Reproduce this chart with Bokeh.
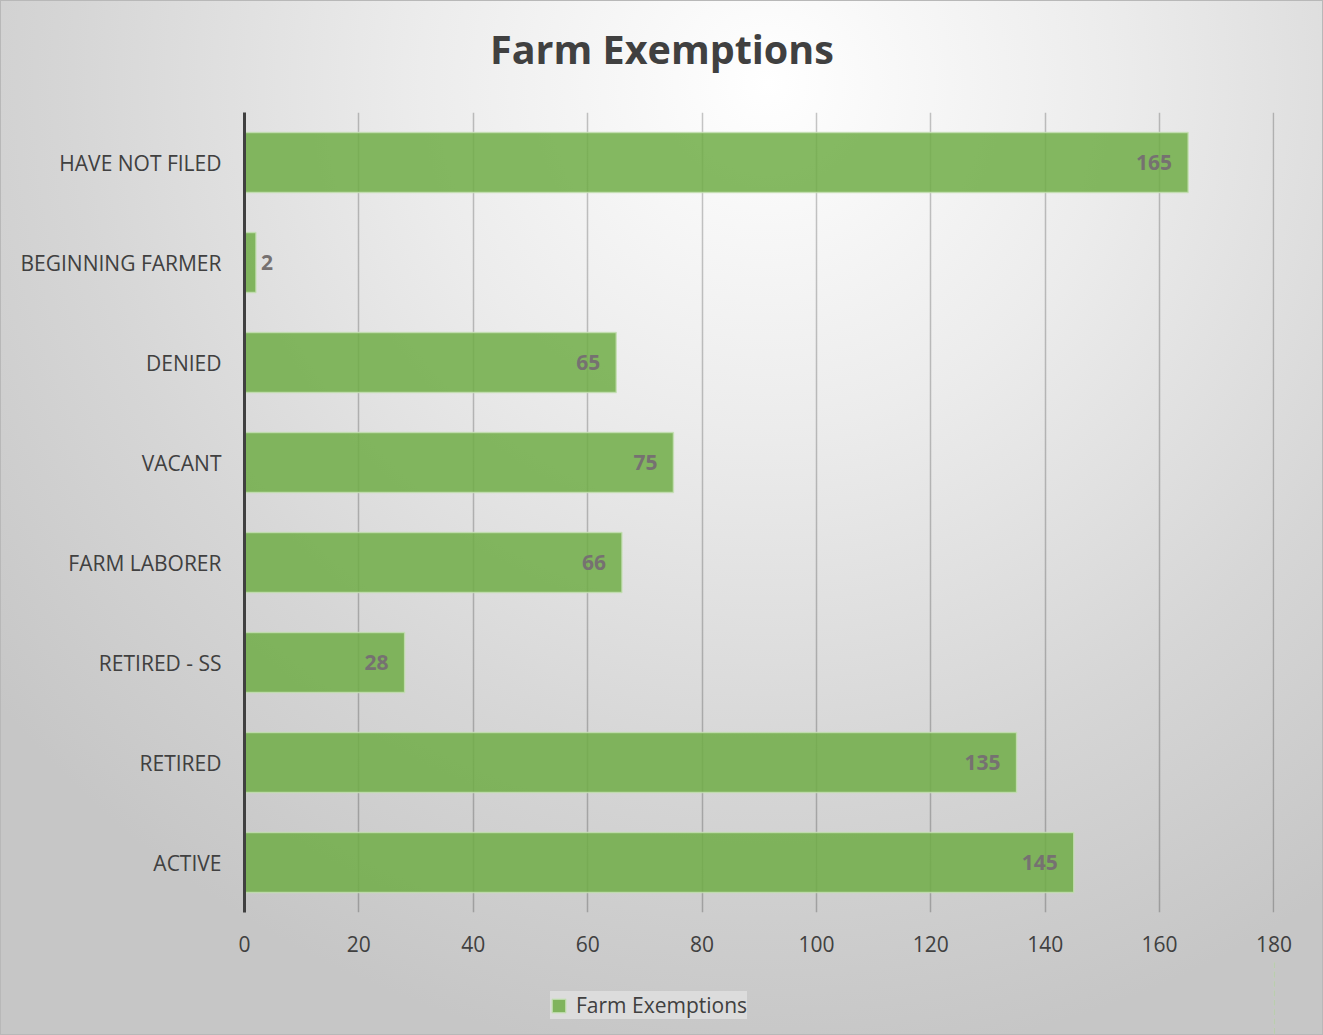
from bokeh.plotting import figure
from bokeh.layouts import column
from bokeh.models import (ColumnDataSource, FactorRange, Range1d, SingleIntervalTicker,
                          Legend, LegendItem, Label, LabelSet)
from bokeh.core.properties import value
from bokeh.embed import file_html
from bokeh.resources import INLINE

# ---- data ----
categories = ["HAVE NOT FILED", "BEGINNING FARMER", "DENIED", "VACANT",
              "FARM LABORER", "RETIRED - SS", "RETIRED", "ACTIVE"]
values = [165, 2, 65, 75, 66, 28, 135, 145]
series_name = "Farm Exemptions"
title_text = "Farm Exemptions"
x_max = 180
x_step = 20

TEXT = "#404040"
FONT = "Open Sans"
BAR = "#70ad47"
BAR_LINE = "#c5e0b4"
W = 1323
LEFT, RIGHT = 244, 49


def strip(height, **kw):
    f = figure(width=W, height=height, output_backend="svg", toolbar_location=None,
               x_axis_type=None, y_axis_type=None, min_border_left=LEFT,
               min_border_right=RIGHT, min_border_top=0, min_border_bottom=0, **kw)
    f.title = None
    f.background_fill_color = None
    f.border_fill_color = None
    f.outline_line_color = None
    f.grid.grid_line_color = None
    return f


# labels inside end unless the bar is too short
inside = [v >= 10 for v in values]
src_in = ColumnDataSource(dict(
    cat=[c for c, i in zip(categories, inside) if i],
    val=[v for v, i in zip(values, inside) if i],
    txt=[str(v) for v, i in zip(values, inside) if i]))
src_out = ColumnDataSource(dict(
    cat=[c for c, i in zip(categories, inside) if not i],
    val=[v for v, i in zip(values, inside) if not i],
    txt=[str(v) for v, i in zip(values, inside) if not i]))
src = ColumnDataSource(dict(cat=categories, val=values))

# ---- title strip (x range in page pixels) ----
top = strip(112, x_range=Range1d(LEFT, W - RIGHT), y_range=Range1d(0, 112))
top.add_layout(Label(x=W / 2, y=64, text=title_text, text_align="center",
                     text_baseline="middle", text_font=FONT, text_font_size="39.5px",
                     text_font_style="bold", text_color=TEXT))

# ---- main chart ----
p = figure(width=W, height=848, output_backend="svg", toolbar_location=None,
           y_range=FactorRange(factors=list(reversed(categories)), range_padding=0),
           x_range=Range1d(0, x_max + 0.1),
           min_border_left=LEFT, min_border_right=RIGHT, min_border_top=0, min_border_bottom=48)
p.title = None
p.background_fill_color = None
p.border_fill_color = None
p.outline_line_color = None

r = p.hbar(y="cat", right="val", left=0, height=0.6, source=src,
           fill_color=BAR, fill_alpha=0.85,
           line_color=BAR_LINE, line_alpha=0.8, line_width=1.5)

for s, off, al in ((src_in, -16, "right"), (src_out, 5, "left")):
    p.add_layout(LabelSet(x="val", y="cat", text="txt", source=s, x_offset=off,
                          text_align=al, text_baseline="middle",
                          text_font=value(FONT), text_font_style="bold",
                          text_font_size="21px", text_color="#767171"))

p.xaxis.ticker = SingleIntervalTicker(interval=x_step)
p.xaxis.axis_line_color = None
p.xaxis.major_tick_line_color = None
p.xaxis.minor_tick_line_color = None
p.xaxis.major_label_text_font = FONT
p.xaxis.major_label_text_font_size = "21px"
p.xaxis.major_label_text_color = TEXT
p.xaxis.major_label_standoff = 17

p.yaxis.axis_line_color = TEXT
p.yaxis.axis_line_width = 3
p.yaxis.major_tick_line_color = None
p.yaxis.minor_tick_line_color = None
p.yaxis.major_label_text_font = FONT
p.yaxis.major_label_text_font_size = "21px"
p.yaxis.major_label_text_color = TEXT
p.yaxis.major_label_standoff = 17

p.ygrid.grid_line_color = None
p.xgrid.grid_line_color = "#000000"
p.xgrid.grid_line_alpha = 0.22
p.xgrid.grid_line_width = 1.5

# ---- legend strip ----
leg = strip(75, x_range=Range1d(-2, -1),
            y_range=FactorRange(factors=list(reversed(categories))))
lr = leg.hbar(y="cat", right="val", left=0, height=0.6, source=src,
              fill_color=BAR, fill_alpha=0.85,
              line_color=BAR_LINE, line_alpha=0.8, line_width=1.5)
legend = Legend(items=[LegendItem(label=series_name, renderers=[lr])],
                orientation="horizontal", location=(550 - LEFT, 16),
                label_text_font=FONT, label_text_font_size="21px", label_text_color=TEXT,
                glyph_width=17, glyph_height=17, label_standoff=9, label_width=171,
                background_fill_color="#dcdcdc", background_fill_alpha=1.0,
                border_line_color=None, padding=16, margin=0, spacing=0)
leg.add_layout(legend, "center")

layout = column(top, p, leg, spacing=0)
layout.styles = {
    "background": "radial-gradient(ellipse 75% 95% at 58% 8%, #ffffff 0%, #ececec 35%, #d6d6d6 70%, #c6c6c6 100%)",
    "box-shadow": "inset 0 0 0 1px #b8b8b8",
}

open("out.html", "w").write(file_html(layout, INLINE))
